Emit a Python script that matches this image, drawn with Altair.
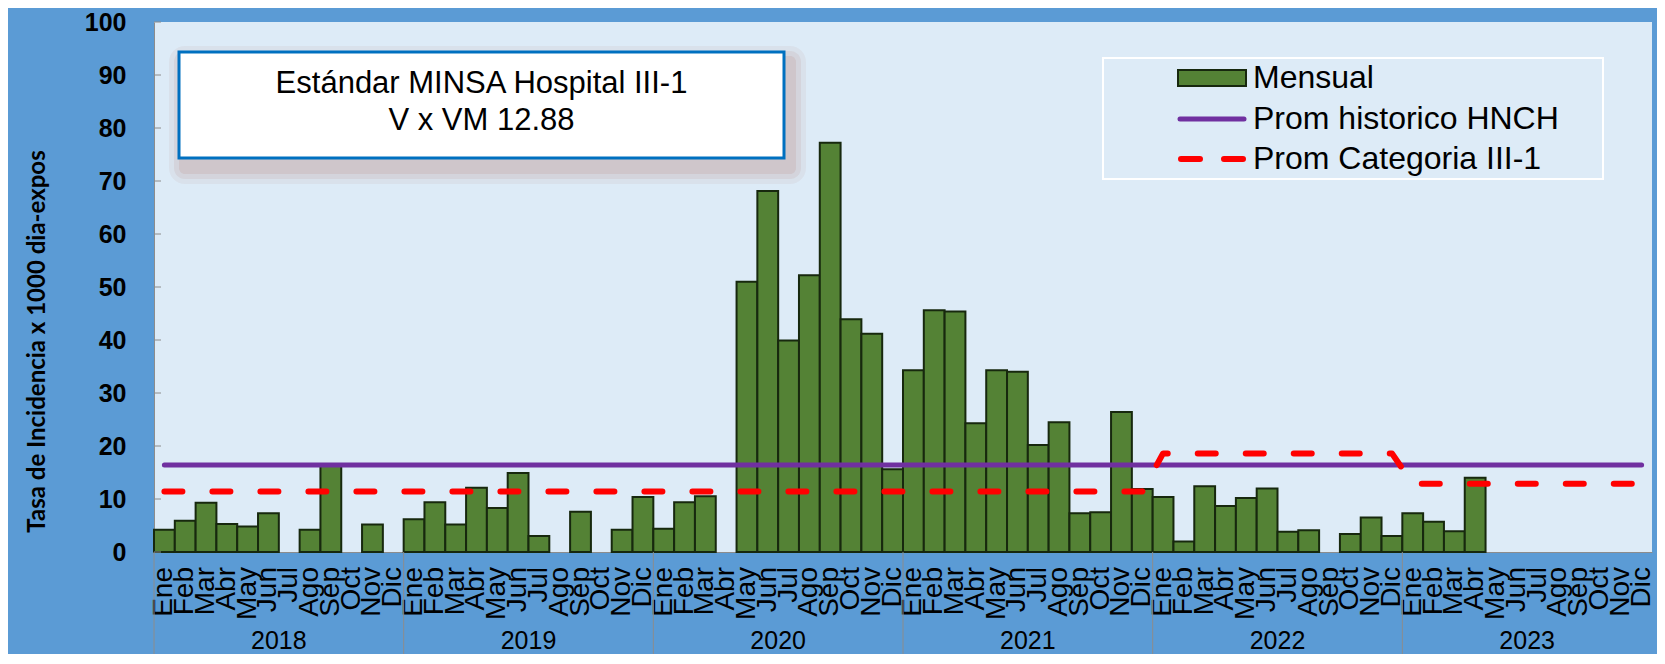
import altair as alt
import pandas as pd

months = ["Ene", "Feb", "Mar", "Abr", "May", "Jun", "Jul", "Ago", "Sep", "Oct", "Nov", "Dic"]
years = ["2018", "2019", "2020", "2021", "2022", "2023"]
mensual = [
    4.2, 5.9, 9.3, 5.3, 4.8, 7.3, None, 4.2, 16.3, None, 5.2, None,
    6.2, 9.4, 5.2, 12.1, 8.3, 14.9, 3.0, None, 7.6, None, 4.2, 10.4,
    4.4, 9.4, 10.5, None, 51.0, 68.1, 39.9, 52.2, 77.2, 43.9, 41.2, 15.6,
    34.3, 45.6, 45.4, 24.3, 34.3, 34.0, 20.2, 24.5, 7.3, 7.5, 26.4, 11.9,
    10.4, 2.0, 12.4, 8.7, 10.2, 12.0, 3.8, 4.1, None, 3.4, 6.5, 3.0,
    7.3, 5.7, 3.9, 14.0, None, None, None, None, None, None, None, None,
]
prom_hist = 16.4
prom_cat_by_year = [11.4, 11.4, 11.4, 11.4, 18.6, 12.88]
y_ticks = [0, 10, 20, 30, 40, 50, 60, 70, 80, 90, 100]
box_lines = ["Estándar MINSA Hospital III-1", "V x VM 12.88"]
legend_labels = ["Mensual", "Prom historico HNCH", "Prom Categoria III-1"]

rows = []
for i, v in enumerate(mensual):
    rows.append({
        "idx": i, "start": i, "end": i + 1, "mid": i + 0.5,
        "year": years[i // 12], "month": months[i % 12],
        "value": v, "hist": prom_hist, "cat": prom_cat_by_year[i // 12],
    })
df = pd.DataFrame(rows)
years_df = pd.DataFrame({"year": years, "center": [k * 12 + 6 for k in range(len(years))],
                         "bound": [k * 12 for k in range(len(years))]})
ticks_df = pd.DataFrame({"t": y_ticks})
one = pd.DataFrame({"k": [0]})

W, H = 1498, 530
GREEN = "#548235"
EDGE = "#17280E"
PURPLE = "#7030A0"
RED = "#FF0000"
GRAY = "#8C8C8C"

xscale = alt.Scale(domain=[0, 72], nice=False, zero=False)
yscale = alt.Scale(domain=[0, 100], nice=False)

bars = alt.Chart(df).transform_filter("isValid(datum.value)").mark_rect(
    fill=GREEN, stroke=EDGE, strokeWidth=2
).encode(
    x=alt.X("start:Q", scale=xscale, axis=alt.Axis(
        labels=False, ticks=False, grid=False, domainColor=GRAY, title=None)),
    x2="end:Q",
    y=alt.Y("value:Q", scale=yscale, axis=alt.Axis(
        values=y_ticks, labelFont="Liberation Sans", labelFontWeight="bold",
        labelFontSize=25, labelColor="black", labelPadding=28, ticks=False,
        grid=False, domainColor=GRAY,
        title="Tasa de Incidencia x 1000 dia-expos", titleFont="Lato",
        titleFontWeight="bold", titleFontSize=24, titleColor="black",
        titleAngle=-90, titleX=-117, titleY=319, titleAlign="center",
        titleBaseline="middle")),
    y2=alt.Y2(datum=0),
)

inner_ticks = alt.Chart(ticks_df).mark_rule(color=GRAY, strokeWidth=1).encode(
    x=alt.value(0), x2=alt.value(7), y=alt.Y("t:Q", scale=yscale))

hist_line = alt.Chart(df).mark_line(color=PURPLE, strokeWidth=5, strokeCap="round").encode(
    x=alt.X("mid:Q", scale=xscale), y=alt.Y("hist:Q", scale=yscale))

cat_line = alt.Chart(df).mark_line(color=RED, strokeWidth=6, strokeCap="round",
                                   strokeJoin="round", strokeDash=[18, 30]).encode(
    x=alt.X("mid:Q", scale=xscale), y=alt.Y("cat:Q", scale=yscale))

month_text = alt.Chart(df).mark_text(
    font="Liberation Sans", fontSize=28, color="black", angle=270,
    align="right", baseline="middle", clip=False
).encode(x=alt.X("mid:Q", scale=xscale), y=alt.value(H + 15), text="month:N")

separators = alt.Chart(years_df).mark_rule(color=GRAY, strokeWidth=1).encode(
    x=alt.X("bound:Q", scale=xscale), y=alt.value(H), y2=alt.value(H + 110))

year_text = alt.Chart(years_df).mark_text(
    font="Liberation Sans", fontSize=25, color="black", baseline="alphabetic", clip=False
).encode(x=alt.X("center:Q", scale=xscale), y=alt.value(H + 97), text="year:N")

# annotation box with soft shadow
shadows = []
for k, op in [(16, 0.08), (11, 0.11), (6, 0.14)]:
    shadows.append(alt.Chart(one).mark_rect(fill="#B07060", opacity=op, cornerRadius=k).encode(
        x=alt.value(25 - k + 6), x2=alt.value(630 + k + 6),
        y=alt.value(30 - k + 10), y2=alt.value(136 + k + 10)))
box = alt.Chart(one).mark_rect(fill="white", stroke="#0070C0", strokeWidth=3).encode(
    x=alt.value(25), x2=alt.value(630), y=alt.value(30), y2=alt.value(136))
box_text = alt.Chart(pd.DataFrame({"t": box_lines, "yy": [62, 99]})).mark_text(
    font="Liberation Sans", fontSize=31, color="black", align="center", baseline="middle"
).encode(x=alt.value(327.5), y=alt.Y("yy:Q", scale=None), text="t:N")

# legend
leg_box = alt.Chart(one).mark_rect(fill=None, stroke="white", strokeWidth=2).encode(
    x=alt.value(949), x2=alt.value(1449), y=alt.value(36), y2=alt.value(157))
leg_bar = alt.Chart(one).mark_rect(fill=GREEN, stroke=EDGE, strokeWidth=2).encode(
    x=alt.value(1024), x2=alt.value(1092), y=alt.value(48), y2=alt.value(64))
leg_purple = alt.Chart(one).mark_rule(color=PURPLE, strokeWidth=5, strokeCap="round").encode(
    x=alt.value(1026), x2=alt.value(1090), y=alt.value(97))
leg_red = alt.Chart(one).mark_rule(color=RED, strokeWidth=6, strokeCap="round",
                                   strokeDash=[19, 24]).encode(
    x=alt.value(1027), x2=alt.value(1089), y=alt.value(137))
leg_text = alt.Chart(pd.DataFrame({"t": legend_labels, "yy": [56, 97, 137]})).mark_text(
    font="Liberation Sans", fontSize=32, color="black", align="left", baseline="middle"
).encode(x=alt.value(1099), y=alt.Y("yy:Q", scale=None), text="t:N")

chart = alt.layer(
    bars, inner_ticks, hist_line, cat_line, month_text, separators, year_text,
    *shadows, box, box_text, leg_box, leg_bar, leg_purple, leg_red, leg_text
).properties(
    width=W, height=H,
    autosize=alt.AutoSizeParams(type="none"),
    padding={"left": 146, "top": 14, "right": 5, "bottom": 102},
    background="#5B9BD5",
).configure_view(fill="#DDEBF7", stroke=None)

chart.save("out.html", embed_options={"renderer": "svg", "actions": False})
